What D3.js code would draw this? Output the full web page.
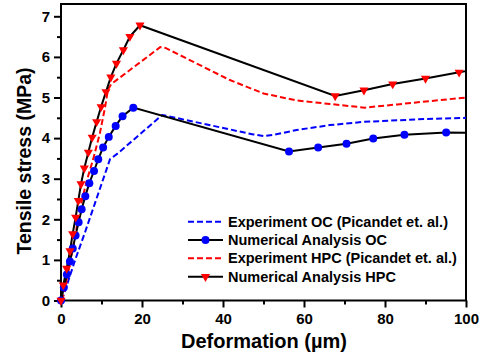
<!DOCTYPE html>
<html>
<head>
<meta charset="utf-8">
<script src="https://cdn.jsdelivr.net/npm/d3@7"></script>
<style>
  body { margin: 0; background: #fff; }
  text { font-family: "Liberation Sans", Arial, sans-serif; font-weight: bold; }
</style>
</head>
<body>
<div id="chart"></div>
<script>
// values
const expOCx = [0.2, 3.5, 6.0, 8.4, 10.9, 12.1, 14.1, 25.0, 47.5, 50.0, 52.5, 58.2, 66.4, 74.6, 81.2, 90.0, 100];
const expOCy = [0, 1.0, 1.7, 2.4, 3.13, 3.48, 3.63, 4.57, 4.09, 4.05, 4.08, 4.2, 4.32, 4.40, 4.43, 4.47, 4.50];

const numOCx = [0, 0.7, 1.45, 2.2, 2.9, 3.6, 4.35, 5.1, 6.0, 7.0, 8.15, 9.2, 10.4, 11.8, 13.5, 15.2, 17.85,
                56.3, 63.5, 70.5, 77.1, 84.8, 95.1, 100];
const numOCy = [0, 0.32, 0.64, 0.96, 1.28, 1.6, 1.93, 2.25, 2.57, 2.89, 3.19, 3.48, 3.77, 4.03, 4.30, 4.54, 4.75,
                3.67, 3.77, 3.86, 3.99, 4.08, 4.14, 4.13];

const expHPCx = [0.3, 2.0, 3.5, 5.0, 6.5, 8.0, 9.6, 10.9, 11.6, 12.4, 24.5, 25.8, 41.7, 50.0, 58.0, 66.4, 75.0, 83.0, 90.0, 100];
const expHPCy = [0, 0.8, 1.6, 2.4, 3.0, 3.5, 4.12, 4.77, 5.2, 5.33, 6.24, 6.22, 5.43, 5.10, 4.93, 4.84, 4.75, 4.83, 4.9, 5.0];

const numHPCx = [0, 0.57, 1.4, 2.22, 2.88, 3.62, 4.27, 4.94, 5.75, 6.75, 7.7, 8.8, 9.9, 11.1, 12.3, 13.7, 15.4, 17.0, 19.5,
                 67.7, 74.8, 81.9, 90.0, 98.3, 100];
const numHPCy = [0, 0.38, 0.79, 1.22, 1.64, 2.05, 2.46, 2.87, 3.26, 3.65, 4.02, 4.40, 4.77, 5.14, 5.50, 5.84, 6.17, 6.50, 6.78,
                 5.04, 5.18, 5.33, 5.47, 5.62, 5.65];

const xTicks = [0, 20, 40, 60, 80, 100];
const yTicks = [0, 1, 2, 3, 4, 5, 6, 7];
const legendLabels = ['Experiment OC (Picandet et. al.)', 'Numerical Analysis OC',
                      'Experiment HPC (Picandet et. al.)', 'Numerical Analysis HPC'];

const zip = (xs, ys) => xs.map((x, i) => ({x: x, y: ys[i]}));

const W = 485, H = 360;
const svg = d3.select('#chart').append('svg')
    .attr('width', W)
    .attr('height', H);

const xScale = d3.scaleLinear().domain([0, 100]).range([61, 466]);
const yScale = d3.scaleLinear().domain([0, 7]).range([300.5, 16.3]);

// plot frame
svg.append('rect')
    .attr('x', 61).attr('y', 4)
    .attr('width', 405).attr('height', 296.5)
    .attr('fill', '#fff')
    .attr('stroke', '#000')
    .attr('stroke-width', 2);

// axes, major + minor ticks pointing out
let xAxis = d3.axisBottom(xScale).tickValues(xTicks).tickSize(7).tickPadding(6);
let xMinor = d3.axisBottom(xScale).tickValues(d3.range(10, 100, 20)).tickSize(4).tickFormat('');
let yAxis = d3.axisLeft(yScale).tickValues(yTicks).tickSize(7).tickPadding(4).tickFormat(d3.format('d'));
let yMinor = d3.axisLeft(yScale).tickValues(d3.range(0.5, 7.5, 1)).tickSize(4).tickFormat('');

function styleAxis(g) {
    g.select('.domain').remove();
    g.selectAll('line').attr('stroke', '#000').attr('stroke-width', 2);
    g.selectAll('text').style('font-size', '15px').attr('fill', '#000');
}
svg.append('g').attr('transform', 'translate(0,300.5)').call(xAxis).call(styleAxis);
svg.append('g').attr('transform', 'translate(0,300.5)').call(xMinor).call(styleAxis);
svg.append('g').attr('transform', 'translate(61,0)').call(yAxis).call(styleAxis);
svg.append('g').attr('transform', 'translate(61,0)').call(yMinor).call(styleAxis);

// axis titles
svg.append('text')
    .text('Deformation (\u00b5m)')
    .attr('x', 264).attr('y', 348)
    .attr('text-anchor', 'middle')
    .style('font-size', '20px');
svg.append('text')
    .text('Tensile stress (MPa)')
    .attr('transform', 'translate(31,161) rotate(-90)')
    .attr('text-anchor', 'middle')
    .style('font-size', '19.5px');

// lines
const line = d3.line().x(d => xScale(d.x)).y(d => yScale(d.y));

const plot = svg.append('g');
plot.append('path').datum(zip(expOCx, expOCy))
    .attr('d', line).attr('fill', 'none')
    .attr('stroke', '#0000ff').attr('stroke-width', 2).attr('stroke-dasharray', '6,3');
plot.append('path').datum(zip(expHPCx, expHPCy))
    .attr('d', line).attr('fill', 'none')
    .attr('stroke', '#ff0000').attr('stroke-width', 2).attr('stroke-dasharray', '6,3');
plot.append('path').datum(zip(numOCx, numOCy))
    .attr('d', line).attr('fill', 'none')
    .attr('stroke', '#000').attr('stroke-width', 2);
plot.append('path').datum(zip(numHPCx, numHPCy))
    .attr('d', line).attr('fill', 'none')
    .attr('stroke', '#000').attr('stroke-width', 2);

// markers (last point is only the line end)
const circ = d3.symbol().type(d3.symbolCircle).size(50);
const tri = d3.symbol().type(d3.symbolTriangle).size(36);
plot.selectAll('.ocDot')
    .data(zip(numOCx, numOCy).slice(0, -1))
    .enter().append('path')
    .attr('class', 'ocDot')
    .attr('d', circ)
    .attr('transform', d => `translate(${xScale(d.x)},${yScale(d.y)})`)
    .attr('fill', '#0000ff');
plot.selectAll('.hpcTri')
    .data(zip(numHPCx, numHPCy).slice(0, -1))
    .enter().append('path')
    .attr('class', 'hpcTri')
    .attr('d', tri)
    .attr('transform', d => `translate(${xScale(d.x)},${yScale(d.y)}) rotate(180)`)
    .attr('fill', '#ff0000');

// legend
const legend = svg.append('g');
const rowY = [221.7, 240, 258.3, 276.7];
legendLabels.forEach((label, i) => {
    let g = legend.append('g').attr('transform', `translate(0,${rowY[i]})`);
    let dashed = i % 2 === 0;
    g.append('line')
        .attr('x1', 188).attr('x2', 223).attr('y1', 0).attr('y2', 0)
        .attr('stroke', i === 0 ? '#0000ff' : i === 2 ? '#ff0000' : '#000')
        .attr('stroke-width', 2)
        .attr('stroke-dasharray', dashed ? '6,3' : null);
    if (i === 1) g.append('path').attr('d', circ).attr('transform', 'translate(205.5,0)').attr('fill', '#0000ff');
    if (i === 3) g.append('path').attr('d', tri).attr('transform', 'translate(205.5,0) rotate(180)').attr('fill', '#ff0000');
    g.append('text')
        .text(label)
        .attr('x', 228).attr('y', 5)
        .style('font-size', '14.5px');
});
</script>
</body>
</html>
